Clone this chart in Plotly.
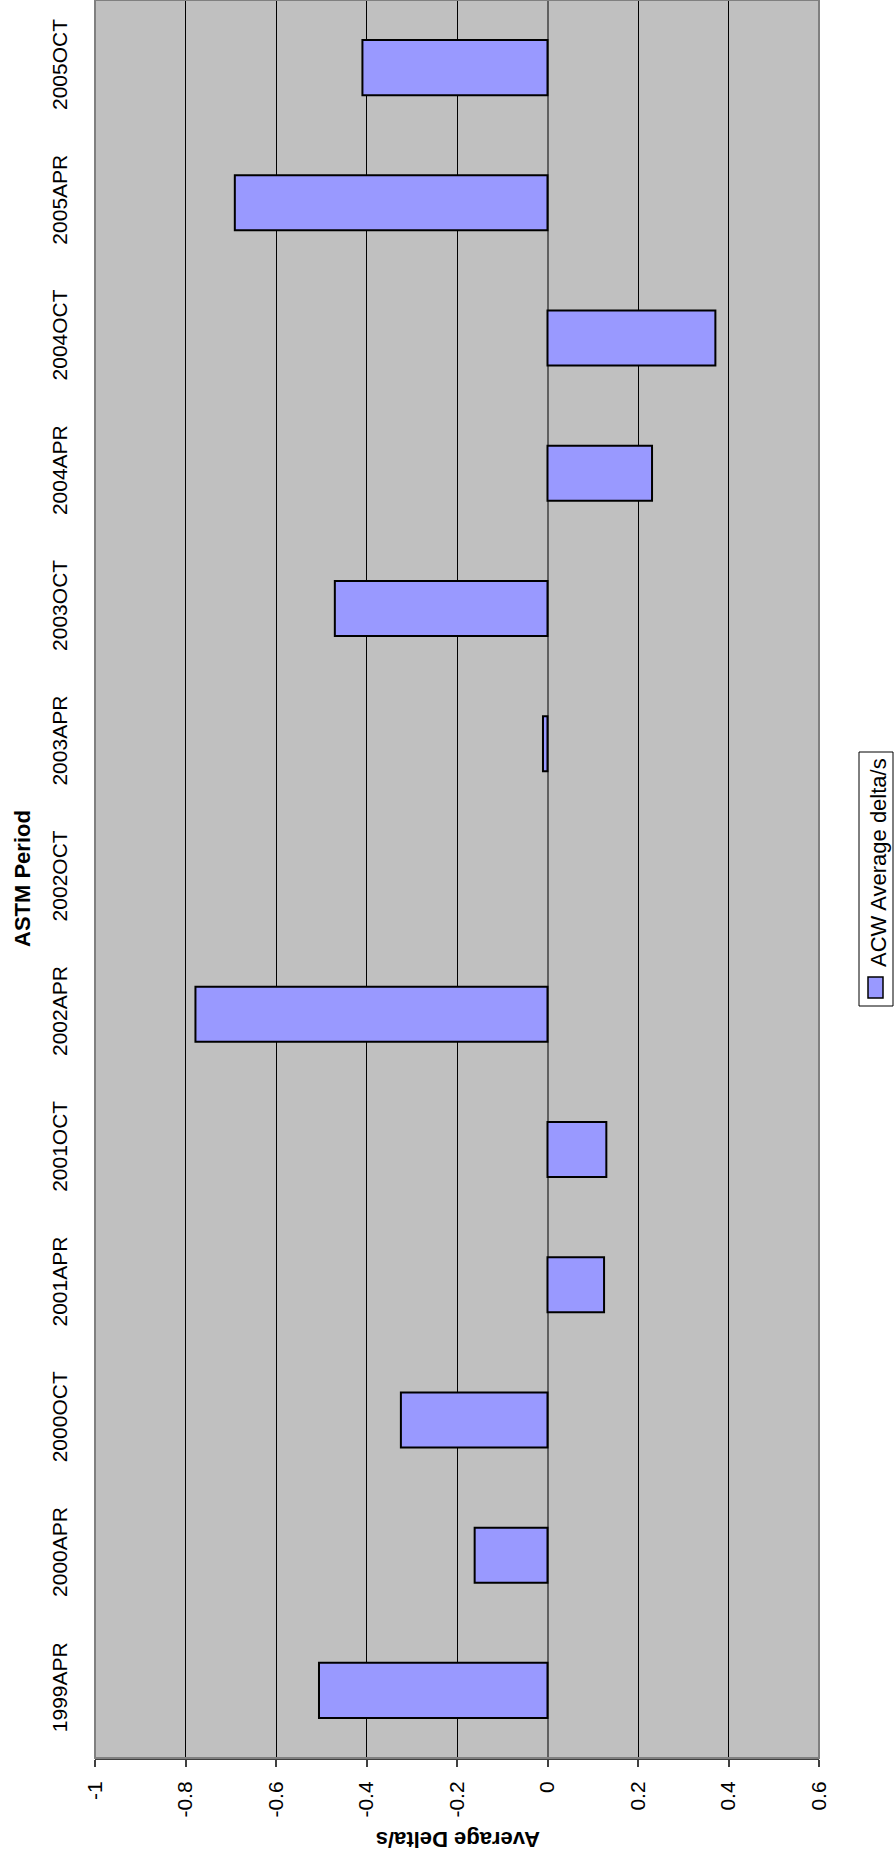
import plotly.graph_objects as go

periods = ["1999APR", "2000APR", "2000OCT", "2001APR", "2001OCT", "2002APR", "2002OCT",
           "2003APR", "2003OCT", "2004APR", "2004OCT", "2005APR", "2005OCT"]
avg_delta = [-0.505, -0.161, -0.324, 0.125, 0.13, -0.778, None,
             -0.01, -0.47, 0.231, 0.371, -0.691, -0.409]
x_ticks = [-1, -0.8, -0.6, -0.4, -0.2, 0, 0.2, 0.4, 0.6]
x_tick_text = ["-1", "-0.8", "-0.6", "-0.4", "-0.2", "0", "0.2", "0.4", "0.6"]
series_name = "ACW Average delta/s"
value_title = "Average Delta/s"
category_title = "ASTM Period"

W, H = 896, 1858
ML, MR, MT, MB = 95, 77, 0, 100
PW = W - ML - MR
PH = H - MT - MB
FONT = "Arial, Liberation Sans, sans-serif"


def px_x(px):
    return (px - ML) / PW


def px_y(py):
    return (H - MB - py) / PH


fig = go.Figure()
fig.add_trace(go.Bar(
    x=avg_delta, y=periods, orientation="h", name=series_name,
    marker=dict(color="#9999FF", line=dict(color="black", width=2)),
    showlegend=False,
))

n = len(periods)
boundaries = [i - 0.5 for i in range(n + 1)]

fig.update_layout(
    width=W, height=H,
    margin=dict(l=ML, r=MR, t=MT, b=MB, pad=0),
    paper_bgcolor="white",
    plot_bgcolor="#C0C0C0",
    bargap=0.593,
    font=dict(family=FONT, size=21, color="black"),
    xaxis=dict(
        range=[-1, 0.6], tickvals=x_ticks, ticktext=x_tick_text, tickangle=-90,
        showgrid=True, gridcolor="black", gridwidth=1,
        zeroline=True, zerolinecolor="#606060", zerolinewidth=2,
        showline=True, linecolor="#404040", linewidth=2,
        ticks="outside", ticklen=7, tickcolor="#404040", tickwidth=1.5,
        tickfont=dict(size=21), ticklabelstandoff=6,
        fixedrange=True,
    ),
    yaxis=dict(
        type="category", categoryorder="array", categoryarray=periods,
        range=[-0.5, n - 0.5], tickangle=-90, ticks="", showline=False,
        showgrid=False, tickfont=dict(size=21), ticklabelstandoff=23,
    ),
    yaxis2=dict(
        overlaying="y", anchor="free", position=0.625, side="left",
        range=[-0.5, n - 0.5], tickvals=boundaries, ticks="outside", ticklen=7,
        tickcolor="#404040", tickwidth=1.5, showticklabels=False, showgrid=False,
        zeroline=False, showline=False,
    ),
)

# plot area border
fig.add_shape(type="rect", xref="paper", yref="paper", x0=0, x1=1, y0=0, y1=1,
              line=dict(color="#808080", width=2), layer="above")

# category axis title
fig.add_annotation(x=px_x(22), y=px_y(879), xref="paper", yref="paper",
                   text="<b>" + category_title + "</b>", textangle=-90, showarrow=False,
                   font=dict(size=22, family=FONT), xanchor="center", yanchor="middle")
# value axis title (upside down)
fig.add_annotation(x=px_x(458), y=px_y(1840), xref="paper", yref="paper",
                   text="<b>" + value_title + "</b>", textangle=180, showarrow=False,
                   font=dict(size=22, family=FONT), xanchor="center", yanchor="middle")

# legend (rotated)
fig.add_shape(type="rect", xref="paper", yref="paper",
              x0=px_x(859), x1=px_x(893), y0=px_y(1006), y1=px_y(752),
              line=dict(color="black", width=1), fillcolor="white")
fig.add_shape(type="rect", xref="paper", yref="paper",
              x0=px_x(868), x1=px_x(883), y0=px_y(998), y1=px_y(977),
              line=dict(color="black", width=1.5), fillcolor="#9999FF")
fig.add_annotation(x=px_x(878), y=px_y(863), xref="paper", yref="paper",
                   text=series_name, textangle=-90, showarrow=False,
                   font=dict(size=22, family=FONT), xanchor="center", yanchor="middle")

fig.write_html("out.html")
